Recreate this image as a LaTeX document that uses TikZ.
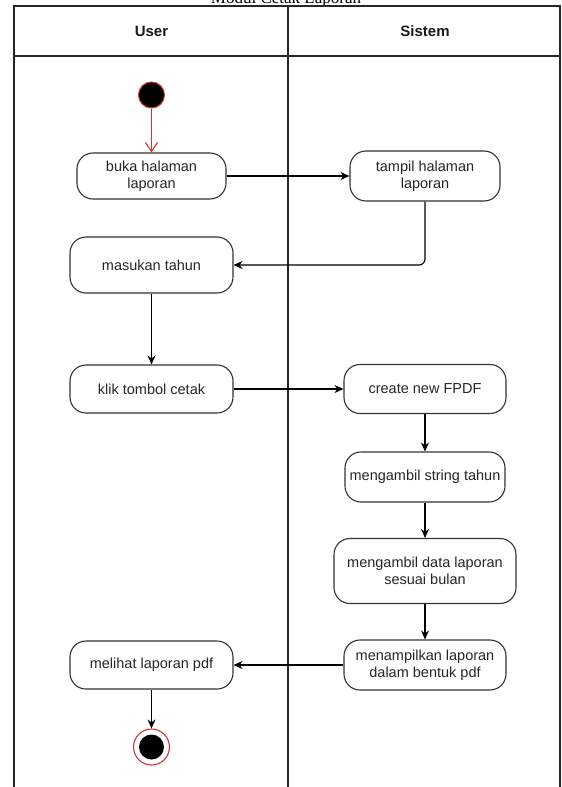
\documentclass[tikz,border=0pt]{standalone}
\usepackage{fontspec}
\setmainfont{Liberation Serif}
\newfontfamily\diagfont{Liberation Sans}
\usetikzlibrary{arrows.meta}
\definecolor{linegray}{HTML}{333333}
\definecolor{statered}{RGB}{204,51,51}
\begin{document}
\begin{tikzpicture}[x=1bp,y=-1bp,
  act/.style={draw=linegray, line width=1.1bp, rounded corners=16bp, fill=white,
    align=center, inner sep=0pt, text=black!85,
    font=\diagfont\fontsize{14.5bp}{17.5bp}\selectfont},
  flow/.style={draw=black, line width=1.1bp, -{Stealth[length=9bp,width=8bp]}},
  lane/.style={draw=black!85, line width=1.4bp},
  lanehead/.style={font=\diagfont\bfseries\fontsize{15bp}{18bp}\selectfont, text=black!90},
]
\useasboundingbox (0,0) rectangle (562,787);
\clip (0,0) rectangle (562,787);

% title and swimlanes
\node[font=\fontsize{17bp}{20bp}\selectfont, anchor=base, inner sep=0pt] (title) at (286,4) {Modul Cetak Laporan};
\draw[lane] (14,800) -- (14,6) -- (560,6) -- (560,800);
\draw[lane] (14,56) -- (560,56);
\draw[lane] (288,6) -- (288,800);
\node[lanehead] (huser) at (151.5,31) {User};
\node[lanehead] (hsistem) at (425,31) {Sistem};

% states
\node[circle, fill=black, draw=statered, line width=1bp, minimum size=26bp, inner sep=0pt] (start) at (151.5,95) {};
\node[circle, draw=statered, fill=white, line width=1.1bp, minimum size=36bp, inner sep=0pt] (end) at (151.5,747) {};
\node[circle, fill=black, minimum size=25bp, inner sep=0pt] (endcore) at (end) {};

% activities: user lane
\node[act, minimum width=149bp, minimum height=46bp] (buka) at (151.5,176) {buka halaman\\laporan};
\node[act, minimum width=163bp, minimum height=56bp] (masukan) at (151.5,265) {masukan tahun};
\node[act, minimum width=163bp, minimum height=48bp] (klik) at (151.5,389) {klik tombol cetak};
\node[act, minimum width=163bp, minimum height=48bp] (melihat) at (151.5,665) {melihat laporan pdf};

% activities: system lane
\node[act, minimum width=150bp, minimum height=50bp] (tampil) at (425,176) {tampil halaman\\laporan};
\node[act, minimum width=162bp, minimum height=49bp] (create) at (425,389) {create new FPDF};
\node[act, minimum width=160bp, minimum height=50bp] (string) at (425,477) {mengambil string tahun};
\node[act, minimum width=182bp, minimum height=65bp] (data) at (425,571) {mengambil data laporan\\sesuai bulan};
\node[act, minimum width=162bp, minimum height=50bp] (tampilpdf) at (425,665) {menampilkan laporan\\dalam bentuk pdf};

% control flow
\draw[draw=statered, line width=1.1bp, -{Straight Barb[length=9bp,width=12bp]}] (start) -- (buka);
\draw[flow] (buka) -- (tampil);
\draw[flow, rounded corners=6bp] (tampil.south) |- (masukan.east);
\draw[flow] (masukan) -- (klik);
\draw[flow] (klik) -- (create);
\draw[flow] (create) -- (string);
\draw[flow] (string) -- (data);
\draw[flow] (data) -- (tampilpdf);
\draw[flow] (tampilpdf) -- (melihat);
\draw[flow] (melihat) -- (end);
\end{tikzpicture}
\end{document}
